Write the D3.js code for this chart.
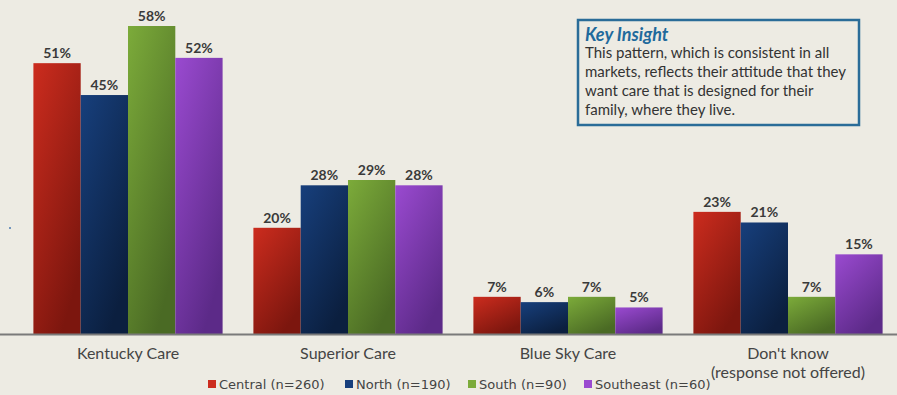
<!DOCTYPE html>
<html>
<head>
<meta charset="utf-8">
<script src="https://cdn.jsdelivr.net/npm/d3@7"></script>
<style>
  body { margin: 0; background: #edebe3; }
  svg { display: block; }
  .val { font-family: Lato, "DejaVu Sans", sans-serif; font-weight: bold; font-size: 14px; fill: #3a3a3a; text-anchor: middle; }
  .cat { font-family: Lato, "DejaVu Sans", sans-serif; font-size: 16px; fill: #444; text-anchor: middle; }
  .leg { font-family: "DejaVu Sans", sans-serif; font-size: 13px; fill: #444; }
</style>
</head>
<body>
<div id="chart"></div>
<script>
  var svgWidth = 897;
  var svgHeight = 395;

  // data
  var categories = ["Kentucky Care", "Superior Care", "Blue Sky Care", "Don't know"];
  var seriesNames = ["Central (n=260)", "North (n=190)", "South (n=90)", "Southeast (n=60)"];
  var central = [51, 20, 7, 23];
  var north = [45, 28, 6, 21];
  var south = [58, 29, 7, 7];
  var southeast = [52, 28, 5, 15];
  var seriesValues = [central, north, south, southeast];

  var colorsTop = ["#cc2c1e", "#173f7c", "#7cab3a", "#9a4ad0"];
  var colorsBottom = ["#7c160e", "#0b1f3f", "#4a6a24", "#5c2a88"];

  var svg = d3.select("#chart")
    .append("svg")
    .attr("width", svgWidth)
    .attr("height", svgHeight);

  svg.append("rect")
    .attr("width", svgWidth)
    .attr("height", svgHeight)
    .attr("fill", "#edebe3");

  // gradients
  var defs = svg.append("defs");
  seriesNames.forEach(function(s, i) {
    var g = defs.append("linearGradient")
      .attr("id", "grad" + i)
      .attr("x1", "0").attr("y1", "0")
      .attr("x2", "0.6").attr("y2", "1");
    g.append("stop").attr("offset", "0%").attr("stop-color", colorsTop[i]);
    g.append("stop").attr("offset", "100%").attr("stop-color", colorsBottom[i]);
  });

  // scales
  var x0 = d3.scaleBand()
    .domain(categories)
    .range([18, 898])
    .paddingInner(0.14)
    .paddingOuter(0.07);

  var x1 = d3.scaleBand()
    .domain(d3.range(seriesNames.length))
    .range([0, x0.bandwidth()]);

  var y = d3.scaleLinear()
    .domain([0, 58])
    .range([334, 26]);

  // bars
  var groups = svg.selectAll(".grp")
    .data(categories)
    .enter()
    .append("g")
    .attr("transform", d => `translate(${x0(d)},0)`);

  groups.each(function(cat, ci) {
    var g = d3.select(this);
    var rows = seriesValues.map((vals, si) => ({ si: si, v: vals[ci] }));
    g.selectAll("rect")
      .data(rows)
      .enter()
      .append("rect")
      .attr("x", d => x1(d.si))
      .attr("y", d => y(d.v))
      .attr("width", x1.bandwidth())
      .attr("height", d => y(0) - y(d.v))
      .attr("fill", d => `url(#grad${d.si})`);
    g.selectAll(".val")
      .data(rows)
      .enter()
      .append("text")
      .attr("class", "val")
      .attr("x", d => x1(d.si) + x1.bandwidth() / 2)
      .attr("y", d => y(d.v) - 5)
      .text(d => d.v + "%");
  });

  // axis line
  svg.append("line")
    .attr("x1", 0).attr("x2", svgWidth)
    .attr("y1", y(0) + 0.5).attr("y2", y(0) + 0.5)
    .attr("stroke", "#7a7a7a")
    .attr("stroke-width", 2);

  // stray dot left of the chart
  svg.append("circle")
    .attr("cx", 10).attr("cy", 228).attr("r", 1)
    .attr("fill", "#4a7ab0");

  // category labels
  svg.selectAll(".cat")
    .data(categories)
    .enter()
    .append("text")
    .attr("class", "cat")
    .attr("x", d => x0(d) + x0.bandwidth() / 2)
    .attr("y", 359)
    .text(d => d);

  svg.append("text")
    .attr("class", "cat")
    .attr("x", x0("Don't know") + x0.bandwidth() / 2)
    .attr("y", 378)
    .text("(response not offered)");

  // legend
  var legX = [208, 345, 468, 584];
  seriesNames.forEach(function(s, i) {
    svg.append("rect")
      .attr("x", legX[i])
      .attr("y", 380)
      .attr("width", 8)
      .attr("height", 8)
      .attr("fill", colorsTop[i]);
    svg.append("text")
      .attr("class", "leg")
      .attr("x", legX[i] + 11)
      .attr("y", 389)
      .text(s);
  });

  // key insight box
  svg.append("rect")
    .attr("x", 578)
    .attr("y", 20)
    .attr("width", 281)
    .attr("height", 105)
    .attr("fill", "#edebe3")
    .attr("stroke", "#2a6c98")
    .attr("stroke-width", 2.5);

  svg.append("text")
    .attr("x", 585)
    .attr("y", 41)
    .attr("font-family", "Lato, 'DejaVu Sans', sans-serif")
    .attr("font-size", 18)
    .attr("font-weight", "bold")
    .attr("font-style", "italic")
    .attr("fill", "#1f6a9c")
    .text("Key Insight");

  var insight = [
    "This pattern, which is consistent in all",
    "markets, reflects their attitude that they",
    "want care that is designed for their",
    "family, where they live."
  ];
  svg.selectAll(".ins")
    .data(insight)
    .enter()
    .append("text")
    .attr("x", 585)
    .attr("y", (d, i) => 58 + i * 19)
    .attr("font-family", "Lato, 'DejaVu Sans', sans-serif")
    .attr("font-size", 15)
    .attr("fill", "#333")
    .text(d => d);
</script>
</body>
</html>
